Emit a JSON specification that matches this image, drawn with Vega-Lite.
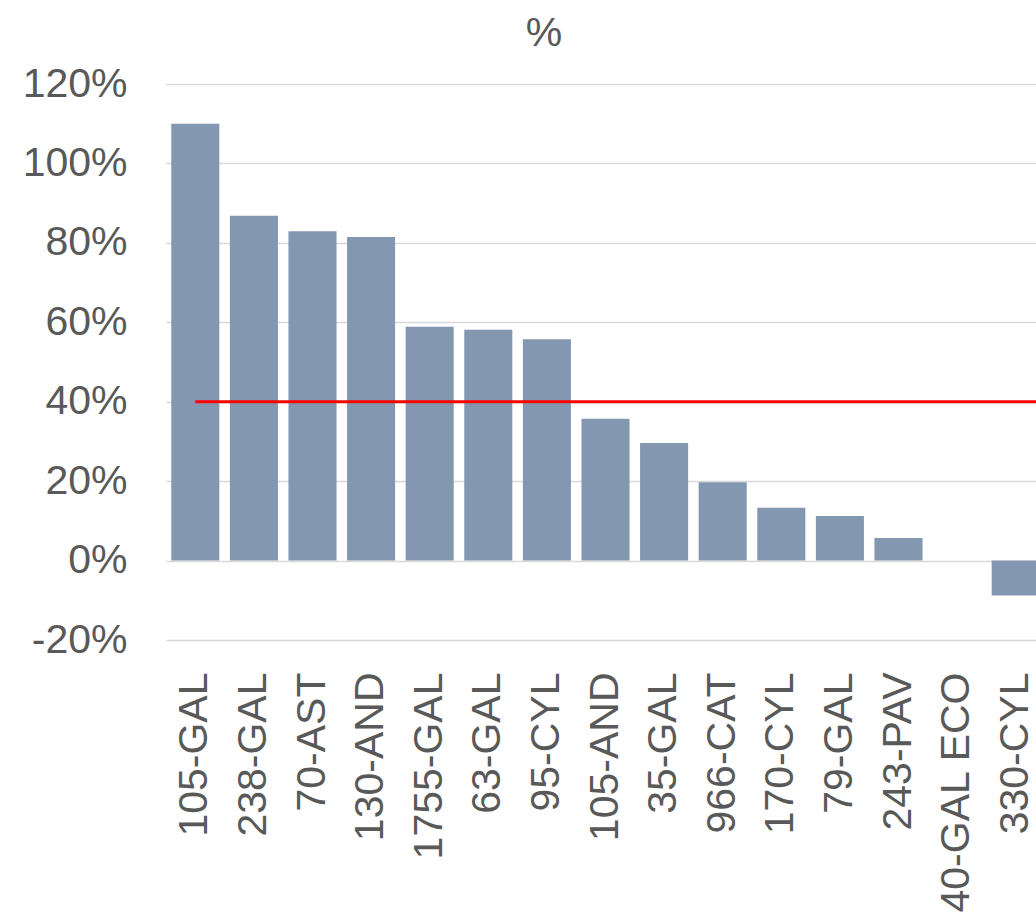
{
  "$schema": "https://vega.github.io/schema/vega-lite/v6.json",
  "autosize": {"type": "none"},
  "padding": {"left": 166, "top": 84, "right": 0, "bottom": 277},
  "width": 870,
  "height": 556,
  "background": "#FFFFFF",
  "title": {
    "text": "%",
    "fontSize": 41,
    "font": "Liberation Sans",
    "fontWeight": "normal",
    "color": "#595959",
    "anchor": "middle",
    "dx": -57,
    "offset": 8
  },
  "config": {
    "view": {"stroke": null},
    "font": "Liberation Sans"
  },
  "datasets": {
    "bars": [
      {"code": "105-GAL", "pct": 1.10},
      {"code": "238-GAL", "pct": 0.868},
      {"code": "70-AST", "pct": 0.829},
      {"code": "130-AND", "pct": 0.815},
      {"code": "1755-GAL", "pct": 0.589},
      {"code": "63-GAL", "pct": 0.581},
      {"code": "95-CYL", "pct": 0.557},
      {"code": "105-AND", "pct": 0.357},
      {"code": "35-GAL", "pct": 0.296},
      {"code": "966-CAT", "pct": 0.197},
      {"code": "170-CYL", "pct": 0.133},
      {"code": "79-GAL", "pct": 0.112},
      {"code": "243-PAV", "pct": 0.057},
      {"code": "40-GAL ECO", "pct": 0.0},
      {"code": "330-CYL", "pct": -0.088}
    ],
    "target": [{"target": 0.4, "from": "105-GAL", "to": "330-CYL"}]
  },
  "resolve": {"scale": {"x": "shared"}},
  "layer": [
    {
      "data": {"name": "bars"},
      "mark": {"type": "bar", "color": "#8497B0"},
      "encoding": {
        "x": {
          "field": "code",
          "type": "nominal",
          "scale": {
            "domain": ["105-GAL", "238-GAL", "70-AST", "130-AND", "1755-GAL", "63-GAL", "95-CYL", "105-AND", "35-GAL", "966-CAT", "170-CYL", "79-GAL", "243-PAV", "40-GAL ECO", "330-CYL"],
            "range": [0, 879], "paddingInner": 0.18, "paddingOuter": 0.09
          },
          "axis": {
            "title": null,
            "labelAngle": -90,
            "labelAlign": "right",
            "labelBaseline": "middle",
            "labelFontSize": 41,
            "labelColor": "#595959",
            "labelPadding": 32,
            "labelLimit": 0,
            "labelOverlap": false,
            "ticks": false,
            "domain": false,
            "grid": false
          }
        },
        "y": {
          "field": "pct",
          "type": "quantitative",
          "scale": {"domain": [-0.2, 1.2], "nice": false},
          "axis": {
            "title": null,
            "values": [-0.2, 0, 0.2, 0.4, 0.6, 0.8, 1.0, 1.2],
            "labelExpr": "replace(format(datum.value, '.0%'), '\u2212', '-')",
            "labelFontSize": 41,
            "labelColor": "#595959",
            "labelPadding": 39,
            "ticks": false,
            "domain": false,
            "grid": true,
            "gridColor": "#D9D9D9",
            "gridWidth": 1.5
          }
        }
      }
    },
    {
      "data": {"name": "target"},
      "mark": {"type": "rule", "color": "#FF0000", "strokeWidth": 3, "x2Offset": 30},
      "encoding": {
        "x": {"field": "from", "type": "nominal"},
        "x2": {"field": "to"},
        "y": {"field": "target", "type": "quantitative"}
      }
    }
  ]
}
